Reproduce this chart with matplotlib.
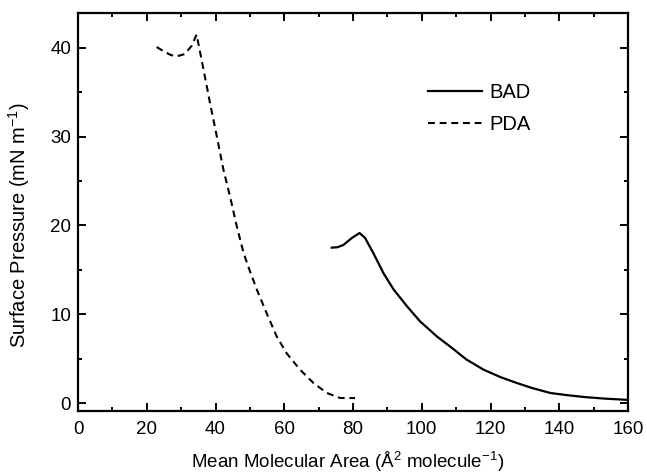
import matplotlib
matplotlib.use("Agg")
import matplotlib.pyplot as plt
from matplotlib.ticker import MultipleLocator

# Isotherm data
bad_area = [73.8, 75.5, 77.2, 79.7, 81.9, 83.5, 85.9, 88.9, 91.8, 95.7, 99.5,
            104.4, 108.8, 113.0, 118.0, 123.0, 127.7, 132.0, 137.4, 142.0,
            147.1, 153.0, 160.0]
bad_pressure = [17.5, 17.55, 17.8, 18.6, 19.15, 18.6, 16.9, 14.6, 12.8, 10.9, 9.2,
                7.5, 6.2, 4.9, 3.75, 2.9, 2.25, 1.7, 1.13, 0.9,
                0.68, 0.5, 0.35]

pda_area = [22.9, 25.0, 27.0, 28.7, 31.0, 33.0, 34.5, 36.5, 38.4, 40.4, 42.3,
            44.2, 46.2, 48.1, 49.5, 52.0, 54.9, 57.8, 60.7, 64.6, 68.5,
            72.4, 76.3, 80.6]
pda_pressure = [40.1, 39.6, 39.2, 39.05, 39.3, 40.2, 41.5, 37.6, 33.8, 30.0, 26.3,
                23.3, 19.9, 17.0, 15.4, 12.8, 10.1, 7.5, 5.6, 3.75, 2.25,
                1.13, 0.56, 0.56]

plt.rcParams['font.family'] = 'Liberation Sans'
plt.rcParams['mathtext.fontset'] = 'custom'
plt.rcParams['mathtext.rm'] = 'Liberation Sans'
plt.rcParams['mathtext.it'] = 'Liberation Sans'

fig = plt.figure(figsize=(6.47, 4.76), dpi=100)
ax = fig.add_axes([78 / 647, 1 - 411 / 476, 550 / 647, (411 - 13.3) / 476])

ax.plot(bad_area, bad_pressure, color='black', lw=1.6, label='BAD')
ax.plot(pda_area, pda_pressure, color='black', lw=1.5, linestyle=(0, (3.3, 2.3)),
        label='PDA')

ax.set_xlim(0, 160)
ax.set_ylim(-0.9, 43.9)
ax.xaxis.set_major_locator(MultipleLocator(20))
ax.xaxis.set_minor_locator(MultipleLocator(10))
ax.yaxis.set_major_locator(MultipleLocator(10))
ax.yaxis.set_minor_locator(MultipleLocator(5))

ax.tick_params(which='both', direction='in', top=True, right=True, width=1.4,
               labelsize=13.5, pad=5)
ax.tick_params(axis='x', pad=7)
ax.tick_params(which='major', length=6)
ax.tick_params(which='minor', length=3)
for spine in ax.spines.values():
    spine.set_linewidth(1.6)

ax.set_xlabel(r'Mean Molecular Area (Å$^2$ molecule$^{-1}$)', fontsize=13.5)
ax.set_ylabel(r'Surface Pressure (mN m$^{-1}$)', fontsize=14.5)
ax.xaxis.set_label_coords(0.491, -0.097)
ax.yaxis.set_label_coords(-0.084, 0.468)

ax.legend(loc='upper left', bbox_to_anchor=(0.636, 0.825), frameon=False,
          fontsize=14.5, handlelength=2.7, handletextpad=0.35, labelspacing=0.65,
          borderpad=0, borderaxespad=0)

fig.savefig('out.png', dpi=100)
